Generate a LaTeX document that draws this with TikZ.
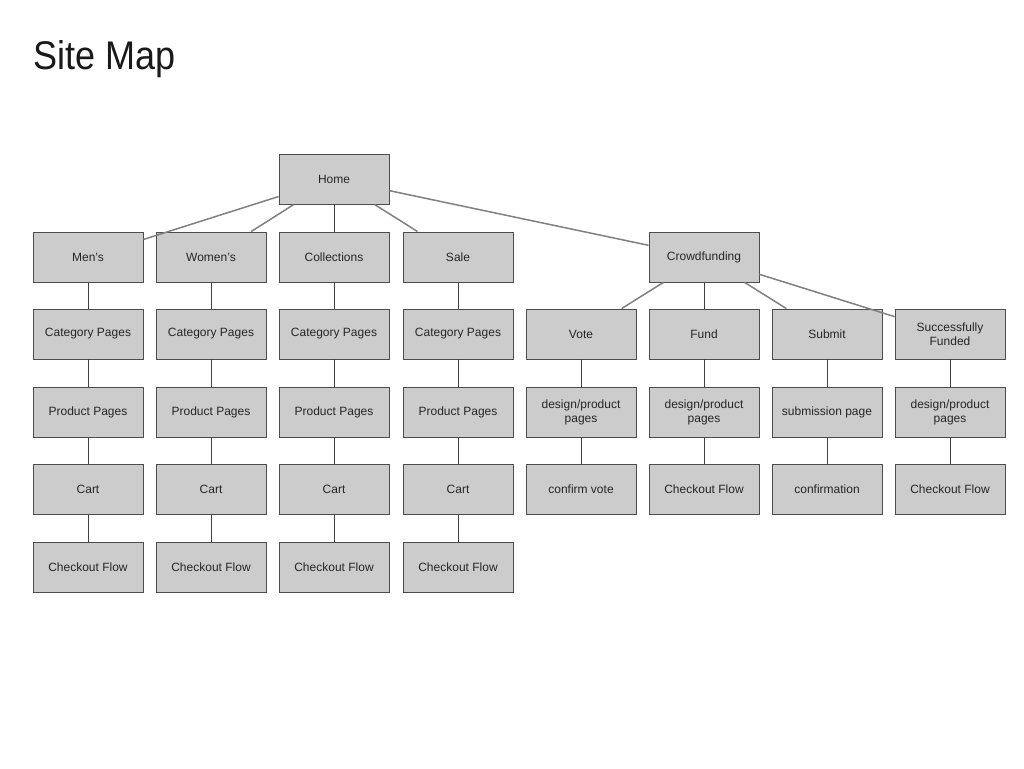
\documentclass[tikz,border=0pt]{standalone}
\usepackage{fontspec}
\setmainfont{Liberation Sans}
\begin{document}
\begin{tikzpicture}[x=1pt,y=-1pt,
  pagebox/.style={draw=black!70, line width=0.9pt, fill=black!20, minimum width=110pt, minimum height=50pt, inner sep=0pt, align=center, font=\fontsize{12}{14}\selectfont, text=black!85},
  slant/.style={draw=black!50, line width=1.5pt},
  vert/.style={draw=black!75, line width=0.9pt}]
\useasboundingbox (0,0) rectangle (1024,768);
\node[anchor=base west, font=\fontsize{40}{44}\selectfont, inner sep=0pt, text=black!90, xscale=0.9] (title) at (33,70) {Site Map};

\node[pagebox] (home) at (334,179) {Home};

% columns
\node[pagebox] (men) at (88,257) {Men’s};
\node[pagebox] (women) at (211,257) {Women’s};
\node[pagebox] (coll) at (334,257) {Collections};
\node[pagebox] (sale) at (458,257) {Sale};
\node[pagebox] (crowd) at (704,257) {Crowdfunding};

\foreach \n/\x in {men/88, women/211, coll/334, sale/458}{
  \node[pagebox] (\n cat) at (\x,334) {Category Pages};
  \node[pagebox] (\n prod) at (\x,412) {Product Pages};
  \node[pagebox] (\n cart) at (\x,489) {Cart};
  \node[pagebox] (\n co) at (\x,567) {Checkout Flow};
  \draw[vert] (\n) -- (\n cat);
  \draw[vert] (\n cat) -- (\n prod);
  \draw[vert] (\n prod) -- (\n cart);
  \draw[vert] (\n cart) -- (\n co);
}

\node[pagebox] (vote) at (581,334) {Vote};
\node[pagebox] (fund) at (704,334) {Fund};
\node[pagebox] (submit) at (827,334) {Submit};
\node[pagebox] (succ) at (950,334) {Successfully\\Funded};

\node[pagebox] (votep) at (581,412) {design/product\\pages};
\node[pagebox] (fundp) at (704,412) {design/product\\pages};
\node[pagebox] (subp) at (827,412) {submission page};
\node[pagebox] (succp) at (950,412) {design/product\\pages};

\node[pagebox] (votec) at (581,489) {confirm vote};
\node[pagebox] (fundc) at (704,489) {Checkout Flow};
\node[pagebox] (subc) at (827,489) {confirmation};
\node[pagebox] (succc) at (950,489) {Checkout Flow};

\draw[vert] (vote) -- (votep);
\draw[vert] (votep) -- (votec);
\draw[vert] (fund) -- (fundp);
\draw[vert] (fundp) -- (fundc);
\draw[vert] (submit) -- (subp);
\draw[vert] (subp) -- (subc);
\draw[vert] (succ) -- (succp);
\draw[vert] (succp) -- (succc);

% home links
\draw[slant] (home) -- (men);
\draw[slant] (home) -- (women);
\draw[vert] (home) -- (coll);
\draw[slant] (home) -- (sale);
\draw[slant] (home) -- (crowd);

% crowdfunding links
\draw[slant] (crowd) -- (vote);
\draw[vert] (crowd) -- (fund);
\draw[slant] (crowd) -- (submit);
\draw[slant] (crowd) -- (succ);
\end{tikzpicture}
\end{document}
